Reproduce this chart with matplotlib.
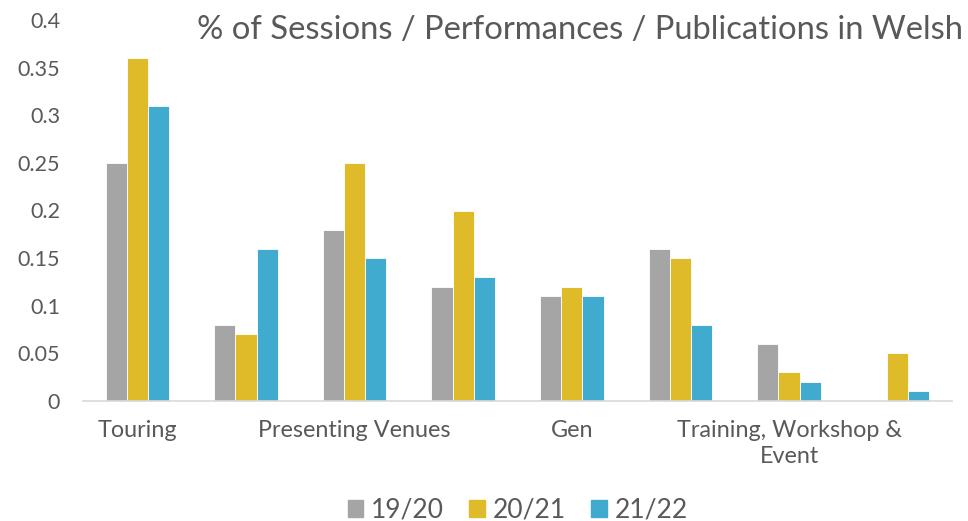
import numpy as np
import matplotlib
matplotlib.use('Agg')
import matplotlib.pyplot as plt
from matplotlib.patches import Patch

categories = ['Touring', '', 'Presenting Venues', '', 'Gen', '',
              'Training, Workshop &\nEvent', '']
series = ['19/20', '20/21', '21/22']
v1920 = [0.25, 0.08, 0.18, 0.12, 0.11, 0.16, 0.06, 0.0]
v2021 = [0.36, 0.07, 0.25, 0.20, 0.12, 0.15, 0.03, 0.05]
v2122 = [0.31, 0.16, 0.15, 0.13, 0.11, 0.08, 0.02, 0.01]
colors = ['#A5A5A5', '#E0BB29', '#41AACF']
text_col = '#595959'

plt.rcParams['font.family'] = ['Lato', 'DejaVu Sans']

fig = plt.figure(figsize=(9.68, 5.21), dpi=100)
ax = fig.add_axes([83 / 968, 1 - 401 / 521, (952 - 83) / 968, (401 - 20) / 521])

x = np.arange(len(categories))
w = 0.195
for i, (vals, c) in enumerate(zip([v1920, v2021, v2122], colors)):
    ax.bar(x + (i - 1) * w, vals, w, color=c, edgecolor='white', linewidth=0.6)

ax.set_xlim(-0.5, len(categories) - 0.5)
ax.set_ylim(0, 0.4)
ax.set_yticks(np.arange(0, 0.41, 0.05))
ax.set_yticklabels(['0', '0.05', '0.1', '0.15', '0.2', '0.25', '0.3', '0.35', '0.4'])
ax.set_xticks(x)
ax.set_xticklabels(categories, fontsize=16.8, color=text_col, linespacing=1.25)
ax.tick_params(axis='y', length=0, labelsize=15.5, labelcolor=text_col, pad=16.5)
ax.tick_params(axis='x', length=0, pad=14)
for s in ['top', 'right', 'left']:
    ax.spines[s].set_visible(False)
ax.spines['bottom'].set_color('#D9D9D9')
ax.spines['bottom'].set_linewidth(1.2)

fig.text(963 / 968, 1 - 30 / 521, '% of Sessions / Performances / Publications in Welsh',
         ha='right', va='center', fontsize=23.6, color=text_col)

handles = [Patch(color=c) for c in colors]
fig.legend(handles, series, loc='center', bbox_to_anchor=(518 / 968, 1 - 510 / 521),
           ncol=3, frameon=False, fontsize=19, labelcolor=text_col,
           handlelength=0.6, handleheight=0.6, handletextpad=0.3, columnspacing=0.95)

fig.savefig('out.png', dpi=100)
